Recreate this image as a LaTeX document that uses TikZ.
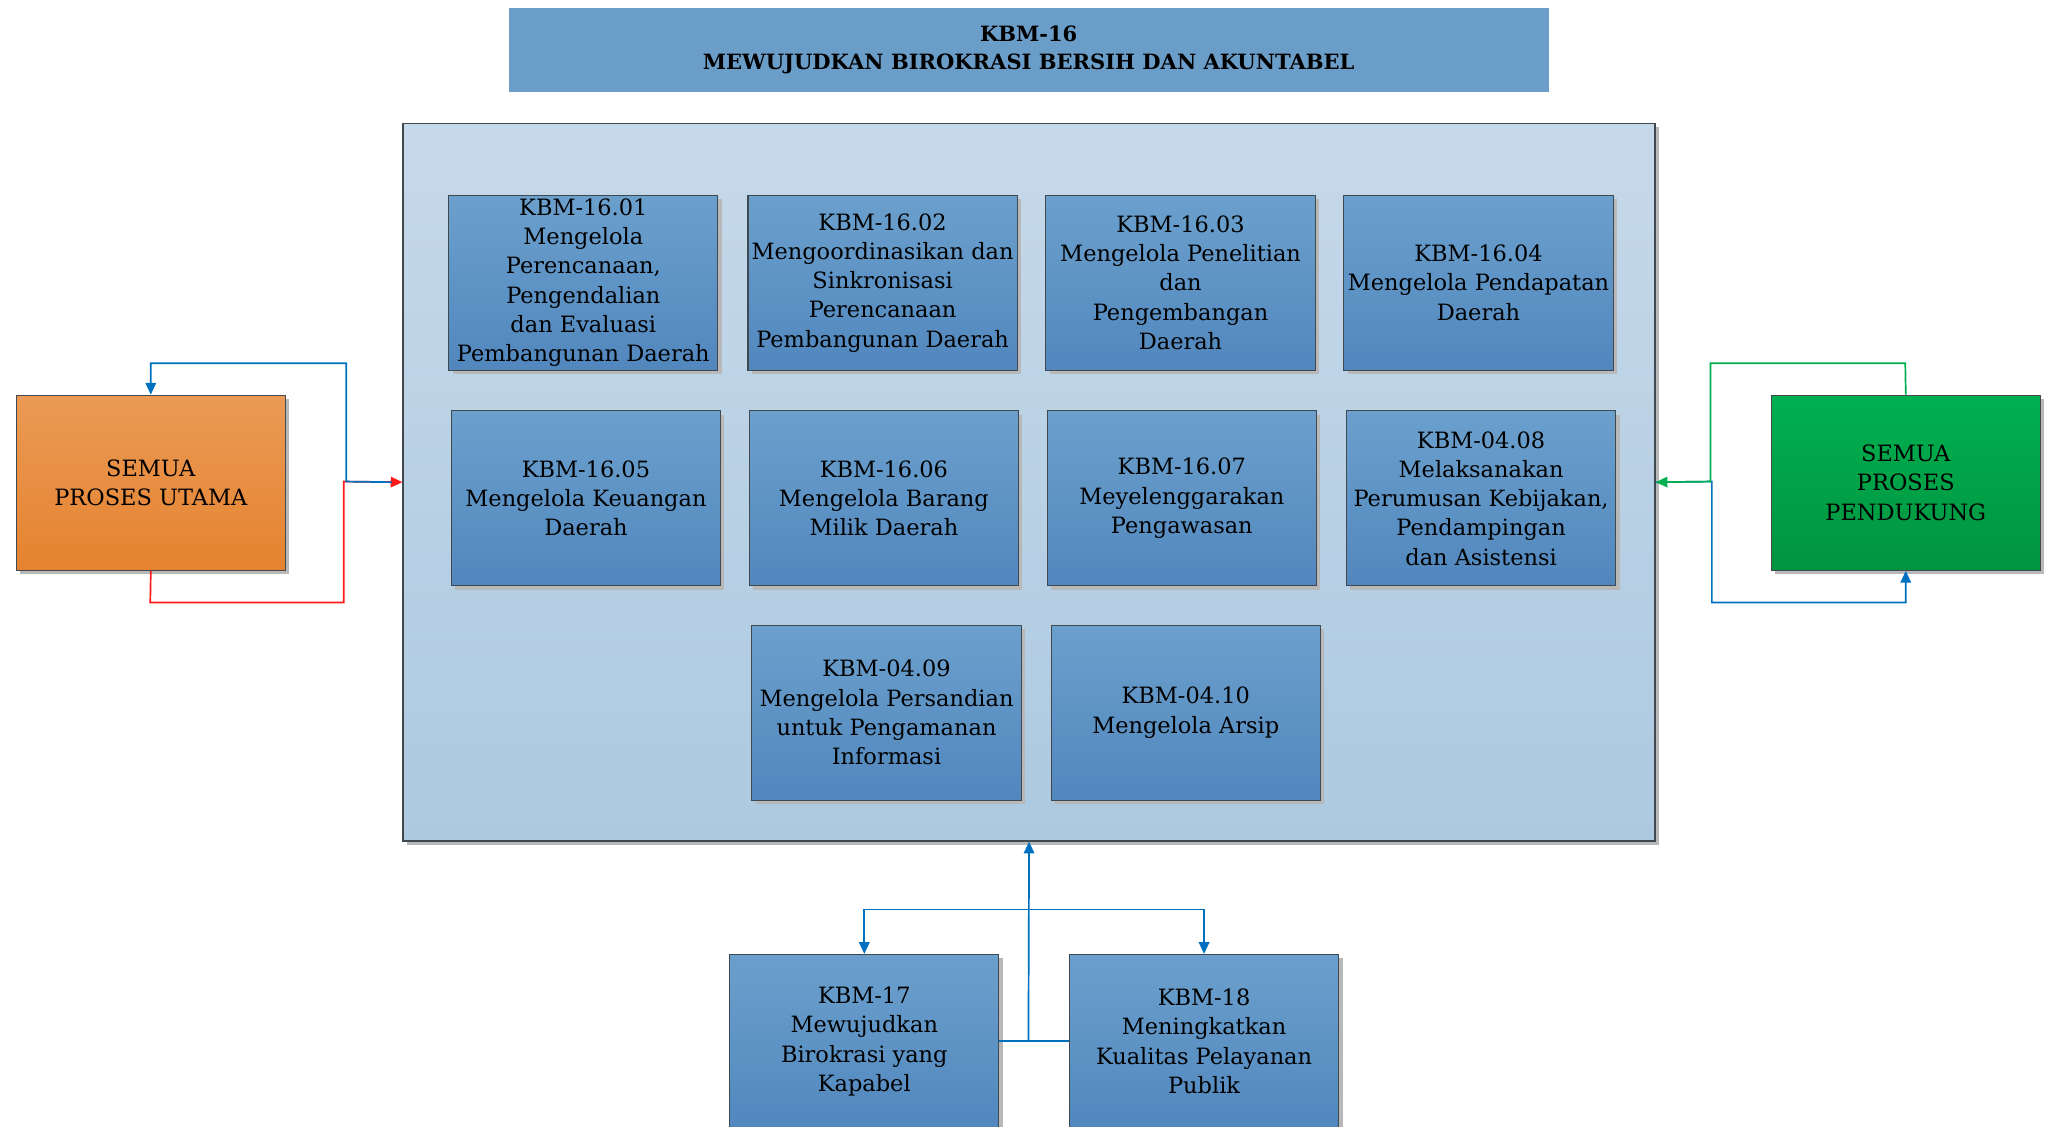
\documentclass[tikz,border=0pt]{standalone}
\usepackage{fontspec}
\setmainfont{DejaVu Serif}
\usetikzlibrary{arrows.meta,shadings,calc}
\definecolor{boxtop}{HTML}{6BA0CD}
\definecolor{boxbot}{HTML}{5187BD}
\definecolor{titlefill}{HTML}{6B9DC9}
\definecolor{conttop}{HTML}{C6D9EA}
\definecolor{contbot}{HTML}{ADC9E0}
\definecolor{orgtop}{HTML}{EA9A55}
\definecolor{orgbot}{HTML}{E58330}
\definecolor{grntop}{HTML}{00B050}
\definecolor{grnbot}{HTML}{009440}
\definecolor{linkblue}{HTML}{0070C0}
\definecolor{linkred}{HTML}{FF1A1A}
\definecolor{linkgreen}{HTML}{00B050}
\definecolor{edge}{HTML}{404850}
\tikzset{
  x=1pt,y=-1pt,
  shadowed/.style={preaction={fill=black!28,draw=none,transform canvas={shift={(3pt,-3pt)}}}},
  kbm/.style={shadowed,draw=edge,line width=0.8pt,top color=boxtop,bottom color=boxbot,
    minimum width=206pt,minimum height=134pt,inner sep=0pt,align=center,anchor=north west,
    font=\fontsize{17.2}{22.4}\selectfont},
  sidebox/.style={kbm},
  conn/.style={line width=1.3pt},
  tip/.style={-{Triangle[length=9pt,width=8pt]}},
}
\begin{document}
\begin{tikzpicture}
\useasboundingbox (0,0) rectangle (1568,862);
% title
\node[fill=titlefill,minimum width=796pt,minimum height=64pt,anchor=north west,inner sep=0pt,align=center,
  font=\fontsize{16.1}{22}\selectfont\bfseries] (title) at (389,6) {KBM-16\\MEWUJUDKAN BIROKRASI BERSIH DAN AKUNTABEL};
% container
\node[shadowed,draw=edge,line width=1pt,top color=conttop,bottom color=contbot,minimum width=958pt,minimum height=549pt,
  anchor=north west,inner sep=0pt] (cont) at (308,94) {};
% row 1
\node[kbm] (b1) at (343,149) {KBM-16.01\\Mengelola\\Perencanaan,\\Pengendalian\\dan Evaluasi\\Pembangunan Daerah};
\node[kbm] (b2) at (572,149) {KBM-16.02\\Mengoordinasikan dan\\Sinkronisasi\\Perencanaan\\Pembangunan Daerah};
\node[kbm] (b3) at (800,149) {KBM-16.03\\Mengelola Penelitian\\dan\\Pengembangan\\Daerah};
\node[kbm] (b4) at (1028,149) {KBM-16.04\\Mengelola Pendapatan\\Daerah};
% row 2
\node[kbm] (b5) at (345,314) {KBM-16.05\\Mengelola Keuangan\\Daerah};
\node[kbm] (b6) at (573,314) {KBM-16.06\\Mengelola Barang\\Milik Daerah};
\node[kbm] (b7) at (801,314) {KBM-16.07\\Meyelenggarakan\\Pengawasan};
\node[kbm] (b8) at (1030,314) {KBM-04.08\\Melaksanakan\\Perumusan Kebijakan,\\Pendampingan\\dan Asistensi};
% row 3
\node[kbm] (b9) at (575,478) {KBM-04.09\\Mengelola Persandian\\untuk Pengamanan\\Informasi};
\node[kbm] (b10) at (804,478) {KBM-04.10\\Mengelola Arsip};
% bottom
\node[kbm,minimum height=133pt] (k17) at (558,730) {KBM-17\\Mewujudkan\\Birokrasi yang\\Kapabel};
\node[kbm,minimum height=133pt] (k18) at (818,730) {KBM-18\\Meningkatkan\\Kualitas Pelayanan\\Publik};
% side boxes
\node[sidebox,top color=orgtop,bottom color=orgbot] (utama) at (12,302) {SEMUA\\PROSES UTAMA};
\node[sidebox,top color=grntop,bottom color=grnbot] (pend) at (1355,302) {SEMUA\\PROSES\\PENDUKUNG};
% left connectors
\draw[conn,linkred,tip] (utama.south) -- (115,461) -- (263,461) -- (263,368.5) -- (cont.west);
\draw[conn,linkblue,tip] (cont.west) ++(-8,0) -- (265,368.5) -- (265,278) -| (utama.north);
% right connectors
\draw[conn,linkblue,tip] (cont.east) -- (1310,368.5) -- (1310,461) -| (pend.south);
\draw[conn,linkgreen,tip] (pend.north) -- (1458,278) -- (1309,278) -- (1309,368.5) -- (cont.east);
% bottom connectors
\coordinate (hub) at (787,796.5);
\coordinate (split) at (787,696);
\draw[conn,linkblue] (k17.east |- hub) -- (hub);
\draw[conn,linkblue] (k18.west |- hub) -- (hub);
\draw[conn,linkblue,tip] (hub) -- (cont.south);
\draw[conn,linkblue,tip] (split) -| (k17.north);
\draw[conn,linkblue,tip] (split) -| (k18.north);
\end{tikzpicture}
\end{document}
